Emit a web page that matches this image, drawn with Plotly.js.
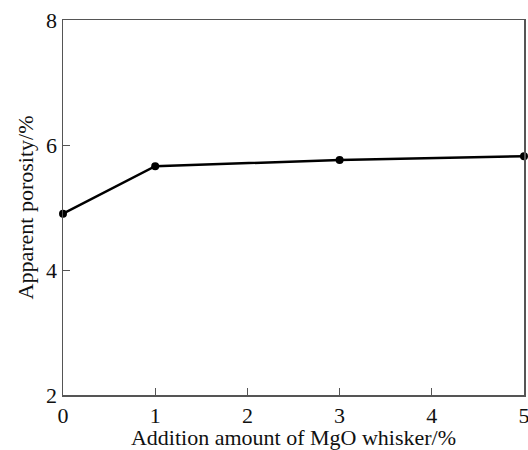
<!DOCTYPE html>
<html><head><meta charset="utf-8">
<script src="https://cdn.plot.ly/plotly-3.0.1.min.js"></script>
<style>body{margin:0;background:#fff}#c{width:528px;height:450px}</style>
</head><body><div id="c"></div>
<script>
const xVals = [0, 1, 3, 5];
const porosity = [4.9, 5.66, 5.76, 5.82];
const xTicks = [0, 1, 2, 3, 4, 5];
const yTicks = [2, 4, 6, 8];
const xTitle = 'Addition amount of MgO whisker/%';
const yTitle = 'Apparent porosity/%';
const fam = 'Liberation Serif';
const layout = {
  width: 528, height: 450,
  margin: {l: 63, r: 4, t: 20, b: 55},
  paper_bgcolor: '#fff', plot_bgcolor: '#fff',
  showlegend: false, font: {family: fam, size: 22, color: '#111'},
  xaxis: {range: [0, 5], tickvals: xTicks, ticktext: xTicks.map(String), ticks: 'inside', ticklen: 7, tickcolor: '#555',
    ticklabeloverflow: 'allow',
    showline: true, mirror: true, linecolor: '#555', linewidth: 1.5, showgrid: false, zeroline: false,
    tickfont: {family: fam, size: 22, color: '#111'},
    title: {text: xTitle, font: {family: fam, size: 22, color: '#111'}, standoff: 5}},
  yaxis: {range: [2, 8], tickvals: yTicks, ticks: 'inside', ticklen: 7, tickcolor: '#555',
    showline: true, mirror: true, linecolor: '#555', linewidth: 1.5, showgrid: false, zeroline: false,
    tickfont: {family: fam, size: 22, color: '#111'},
    title: {text: yTitle, font: {family: fam, size: 22, color: '#111'}, standoff: 6}}
};
function forceFont() {
  document.querySelectorAll('#c svg text').forEach(t => {
    t.style.setProperty('font-family', '"Liberation Serif"', 'important');
    t.setAttribute('font-family', 'Liberation Serif');
  });
}
Plotly.newPlot('c', [{
  x: xVals, y: porosity, mode: 'lines+markers', type: 'scatter', cliponaxis: false,
  line: {color: '#000', width: 2.5}, marker: {color: '#000', size: 8}
}], layout, {staticPlot: true}).then(forceFont);
const gd = document.getElementById('c');
new MutationObserver(forceFont).observe(gd, {subtree: true, childList: true});
</script></body></html>
